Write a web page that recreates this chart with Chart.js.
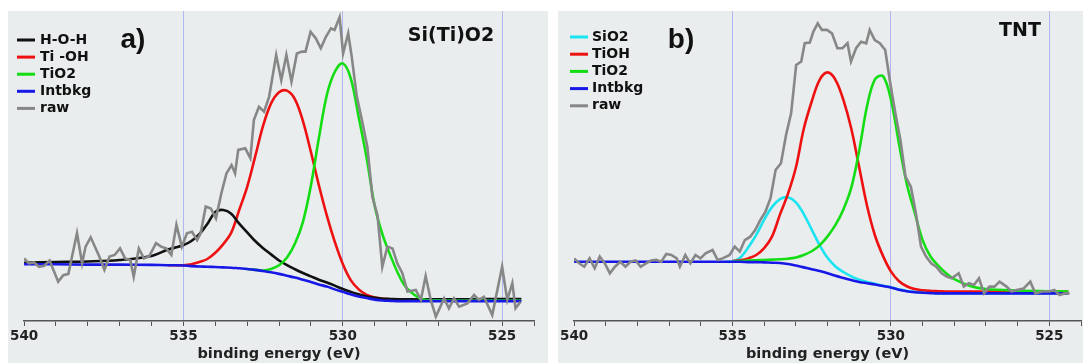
<!DOCTYPE html>
<html>
<head>
<meta charset="utf-8">
<script src="https://cdn.jsdelivr.net/npm/chart.js@4.4.1/dist/chart.umd.min.js"></script>
<style>
  html, body { margin: 0; padding: 0; background: #fff; }
  body { width: 1083px; height: 363px; position: relative; overflow: hidden; }
  .panel { position: absolute; top: 11px; height: 352px; background: #e9edee; }
  #panelA { left: 8px; width: 540px; }
  #panelB { left: 558px; width: 525px; }
</style>
</head>
<body>
<div class="panel" id="panelA"><canvas id="chartA" width="540" height="352"></canvas></div>
<div class="panel" id="panelB"><canvas id="chartB" width="525" height="352"></canvas></div>
<script>
Chart.defaults.font.family = '"DejaVu Sans", sans-serif'
Chart.defaults.color = '#222'

const tickLabels = [540, 535, 530, 525]

// energy grid (eV) the fitted components are read on
const fitEnergy = [540, 539, 538, 537, 536, 535.5, 535.25, 535, 534.75, 534.5, 534.25, 534, 533.75, 533.5, 533.25,
  533, 532.75, 532.5, 532.25, 532, 531.75, 531.5, 531.25, 531, 530.75, 530.5, 530.25, 530, 529.75, 529.5,
  529.25, 529, 528.75, 528.5, 528.25, 528, 527.5, 527, 526, 525, 524.4]

// a) Si(Ti)O2
const bkgA = [18.3, 18.3, 18.2, 18.2, 18.1, 18.0, 18.0, 17.9, 17.7, 17.6, 17.5, 17.4, 17.3, 17.2, 17.0,
  16.8, 16.5, 16.1, 15.7, 15.2, 14.6, 14.0, 13.3, 12.6, 11.8, 11.1, 10.2, 9.4, 8.6, 7.9,
  7.4, 6.9, 6.6, 6.5, 6.4, 6.4, 6.4, 6.4, 6.4, 6.4, 6.4]
const hohA = [18.8, 19.0, 19.2, 19.7, 21.0, 23.0, 23.7, 24.5, 25.8, 28.0, 31.3, 35.2, 35.8, 34.6, 31.4,
  28.6, 25.8, 23.5, 21.5, 19.5, 18.0, 16.7, 15.5, 14.4, 13.3, 12.4, 11.4, 10.3, 9.4, 8.6,
  7.9, 7.5, 7.2, 7.1, 7.0, 7.0, 7.0, 7.0, 7.0, 7.1, 7.1]
const tiohA = [null, null, null, null, null, 18.0, 18.0, 18.0, 18.3, 19.0, 20.0, 22.0, 24.8, 28.5, 35.8,
  43.3, 53.0, 63.0, 70.2, 73.8, 74.3, 71.5, 64.5, 54.5, 43.8, 34.0, 25.5, 18.4, 13.2, 10.2,
  8.4, 7.6, 7.2, 7.0, 6.9, 6.9, 6.9, 6.9, 6.9, 6.9, 6.9]
const tio2A = [null, null, null, null, null, null, null, null, null, null, null, null, null, null, null,
  16.8, 16.5, 16.3, 16.8, 18.0, 20.5, 25.0, 32.0, 43.7, 59.0, 72.9, 80.4, 83.1, 78.3, 65.7,
  52.5, 37.2, 27.8, 21.0, 15.0, 10.7, 7.0, 6.7, 6.6, 6.6, 6.6]
const rawAEnergy = [540.00, 539.85, 539.69, 539.53, 539.37, 539.20, 538.93, 538.77, 538.61, 538.34, 538.18, 538.07,
  537.91, 537.64, 537.48, 537.32, 537.16, 536.99, 536.83, 536.67, 536.56, 536.40, 536.24, 536.08, 535.86, 535.70,
  535.54, 535.38, 535.22, 535.05, 534.89, 534.73, 534.57, 534.46, 534.30, 534.14, 533.98, 533.81, 533.65, 533.49,
  533.38, 533.28, 533.06, 532.90, 532.79, 532.63, 532.47, 532.31, 532.09, 531.93, 531.77, 531.61, 531.44, 531.28,
  531.17, 531.01, 530.85, 530.69, 530.53, 530.37, 530.26, 530.10, 529.99, 529.83, 529.72, 529.56, 529.40, 529.23,
  529.07, 528.91, 528.76, 528.60, 528.44, 528.29, 528.13, 527.97, 527.71, 527.55, 527.40, 527.24, 527.08, 526.82,
  526.67, 526.51, 526.35, 526.09, 525.88, 525.73, 525.57, 525.31, 525.00, 524.84, 524.68, 524.58, 524.42]
const rawACounts = [20.2, 18.6, 18.9, 17.5, 17.8, 19.5, 12.7, 14.8, 15.2, 28.3, 18.6, 24.0,
  27.0, 20.8, 16.5, 20.8, 21.3, 23.4, 20.2, 19.7, 14.3, 23.4, 20.2, 20.8, 25.1, 24.0,
  23.4, 21.3, 31.0, 24.0, 28.3, 28.8, 26.1, 28.3, 36.9, 36.3, 33.1, 41.2, 47.6, 50.3,
  47.6, 55.2, 55.7, 52.5, 64.8, 69.1, 67.5, 72.4, 85.8, 77.7, 85.8, 77.2, 86.3, 86.9,
  86.9, 93.3, 91.2, 88.0, 91.7, 94.4, 93.9, 98.0, 86.3, 92.8, 85.3, 72.4, 64.8, 56.2,
  40.0, 34.0, 17.5, 24.0, 23.4, 18.6, 15.4, 9.5, 10.0, 6.8, 14.5, 6.8, 1.4, 7.3,
  4.1, 7.3, 4.6, 5.7, 8.4, 6.8, 7.8, 1.9, 17.5, 6.8, 12.2, 4.1, 6.2]

// b) TNT
const bkgB = [19.1, 19.1, 19.1, 19.1, 19.1, 19.1, 19.1, 19.1, 19.1, 19.0, 19.0, 18.9, 18.8, 18.7, 18.4,
  17.9, 17.3, 16.7, 16.1, 15.4, 14.6, 13.9, 13.2, 12.6, 12.2, 11.8, 11.3, 10.8, 10.1, 9.6,
  9.3, 9.1, 9.0, 8.9, 8.9, 8.9, 8.9, 8.9, 8.9, 8.9, 8.9]
const sio2B = [null, null, null, null, null, null, 19.1, 19.2, 20.5, 23.8, 27.8, 32.7, 36.8, 39.3, 39.9,
  38.3, 34.5, 29.5, 24.5, 20.4, 17.6, 15.8, 14.4, 13.3, 12.6, 12.0, 11.4, 10.9, 10.2, 9.7,
  9.4, 9.2, 9.1, 9.0, 9.0, 9.0, 9.0, 9.0, 9.0, 9.0, 9.0]
const tiohB = [null, null, null, null, null, null, null, 19.3, 19.6, 20.2, 21.3, 23.5, 27.3, 34.4, 41.0,
  49.5, 62.0, 70.8, 77.8, 80.2, 77.8, 71.3, 62.0, 49.5, 37.0, 27.5, 21.0, 16.0, 12.9, 11.2,
  10.3, 9.9, 9.7, 9.6, 9.5, 9.5, 9.5, 9.5, 9.5, 9.5, 9.5]
const tio2B = [null, null, null, null, null, null, null, 19.3, 19.3, 19.5, 19.6, 19.7, 19.8, 19.9, 20.1,
  20.5, 21.3, 22.5, 24.4, 27.3, 31.0, 36.0, 43.0, 55.0, 69.5, 78.0, 79.0, 71.5, 57.5, 44.3,
  35.0, 26.1, 20.8, 17.8, 15.3, 13.5, 11.3, 10.3, 9.8, 9.6, 9.5]
const rawBEnergy = [540.00, 539.84, 539.68, 539.51, 539.35, 539.19, 539.03, 538.87, 538.71, 538.54, 538.38, 538.22,
  538.06, 537.90, 537.73, 537.57, 537.41, 537.25, 537.09, 536.93, 536.76, 536.66, 536.49, 536.33, 536.17, 536.01,
  535.85, 535.63, 535.47, 535.31, 535.09, 534.93, 534.77, 534.61, 534.44, 534.28, 534.12, 533.96, 533.80, 533.64,
  533.47, 533.31, 533.15, 532.99, 532.83, 532.72, 532.56, 532.45, 532.31, 532.18, 532.02, 531.86, 531.69, 531.53,
  531.37, 531.26, 531.10, 530.94, 530.78, 530.67, 530.51, 530.35, 530.18, 530.02, 529.86, 529.70, 529.54, 529.37,
  529.21, 529.05, 528.89, 528.73, 528.57, 528.40, 528.24, 528.08, 527.86, 527.70, 527.54, 527.38, 527.22, 527.06,
  526.89, 526.73, 526.57, 526.35, 526.19, 526.03, 525.81, 525.60, 525.44, 525.22, 525.00, 524.84, 524.68, 524.52,
  524.36]
const rawBCounts = [20.2, 18.6, 17.5, 20.2, 17.0, 20.8, 18.6, 15.4, 17.5, 19.1, 17.5, 19.1,
  19.5, 17.5, 18.6, 19.5, 19.7, 19.1, 21.6, 21.3, 20.2, 17.5, 21.3, 18.6, 21.3, 20.2,
  21.8, 22.9, 19.7, 20.2, 21.3, 24.0, 22.4, 26.1, 27.2, 29.4, 32.6, 35.3, 39.6, 48.7,
  50.9, 60.0, 67.0, 82.6, 83.7, 89.6, 89.8, 93.3, 96.0, 93.9, 93.9, 92.8, 88.0, 88.0,
  89.6, 83.7, 88.0, 90.1, 89.6, 93.9, 90.6, 89.6, 87.4, 76.7, 67.0, 58.4, 46.6, 43.3,
  34.7, 24.0, 20.8, 18.6, 17.5, 15.4, 14.3, 13.8, 15.4, 11.1, 12.2, 11.6, 13.8, 8.9,
  11.1, 11.1, 12.7, 11.1, 9.5, 10.0, 10.5, 12.7, 8.9, 9.5, 9.5, 10.0, 8.4, 8.9,
  8.9]

const colors = {
  black: '#111111', red: '#ee1111', green: '#14dd14', blue: '#1818e6', cyan: '#1ae4f0', gray: '#878787'
}

const toPoints = (xs, ys) => xs.map((x, i) => ({ x, y: ys[i] }))

const fitLine = (label, ys, color, order) => ({
  label,
  data: toPoints(fitEnergy, ys),
  borderColor: color,
  borderWidth: 2.6,
  pointRadius: 0,
  tension: 0.35,
  fill: false,
  order
})

const rawLine = (xs, ys) => ({
  label: 'raw',
  data: toPoints(xs, ys),
  borderColor: colors.gray,
  borderWidth: 2.6,
  pointRadius: 0,
  tension: 0,
  fill: false,
  order: 0
})

// legend, panel letter and sample name drawn over the plot
const panelText = {
  id: 'panelText',
  afterDraw (chart, args, opts) {
    const ctx = chart.ctx
    ctx.save()
    ctx.font = 'bold 14px "DejaVu Sans"'
    ctx.textBaseline = 'middle'
    ctx.textAlign = 'left'
    chart.data.datasets.forEach((ds, i) => {
      const y = opts.legendY + i * opts.legendStep
      ctx.strokeStyle = ds.borderColor
      ctx.lineWidth = 3
      ctx.beginPath()
      ctx.moveTo(opts.legendX, y)
      ctx.lineTo(opts.legendX + 18, y)
      ctx.stroke()
      ctx.fillStyle = '#111'
      ctx.fillText(ds.label, opts.legendX + opts.textGap, y)
    })
    ctx.textBaseline = 'alphabetic'
    ctx.textAlign = 'center'
    ctx.font = 'bold 28px "Liberation Sans"'
    ctx.fillText(opts.tag, opts.tagX, opts.tagY)
    ctx.font = 'bold 19px "DejaVu Sans"'
    ctx.fillText(opts.name, opts.nameX, opts.nameY)
    ctx.restore()
  }
}

function makeChart (id, datasets, deco, padding) {
  return new Chart(document.getElementById(id), {
    type: 'line',
    data: { datasets },
    options: {
      responsive: false,
      animation: false,
      events: [],
      layout: { padding },
      scales: {
        x: {
          type: 'linear',
          reverse: true,
          min: 524,
          max: 540,
          ticks: {
            stepSize: 1,
            autoSkip: false,
            maxRotation: 0,
            padding: 2,
            color: '#222',
            font: { size: 13.5, weight: 'bold' },
            callback: v => tickLabels.includes(v) ? String(v) : ''
          },
          grid: {
            color: c => (c.tick && c.tick.value !== 540 && tickLabels.includes(c.tick.value)) ? '#b0b6f0' : 'rgba(0,0,0,0)',
            tickColor: '#555',
            tickLength: 5,
            lineWidth: 1
          },
          border: { display: true, color: '#555', width: 1.5 },
          title: {
            display: true,
            text: 'binding energy (eV)',
            color: '#222',
            font: { size: 14.5, weight: 'bold' },
            padding: 0
          },
          afterFit: s => { s.height = 42 }
        },
        y: { display: false, min: 0, max: 100 }
      },
      plugins: {
        legend: { display: false },
        tooltip: { enabled: false },
        panelText: deco
      }
    },
    plugins: [panelText]
  })
}

makeChart('chartA', [
  fitLine('H-O-H', hohA, colors.black, 3),
  fitLine('Ti -OH', tiohA, colors.red, 4),
  fitLine('TiO2', tio2A, colors.green, 2),
  fitLine('Intbkg', bkgA, colors.blue, 1),
  rawLine(rawAEnergy, rawACounts)
], {
  legendX: 9, legendY: 29, legendStep: 17.1, textGap: 23,
  tag: 'a)', tagX: 125, tagY: 37,
  name: 'Si(Ti)O2', nameX: 443, nameY: 30
}, { left: 15, right: 14, top: 0, bottom: 0 })

makeChart('chartB', [
  fitLine('SiO2', sio2B, colors.cyan, 4),
  fitLine('TiOH', tiohB, colors.red, 3),
  fitLine('TiO2', tio2B, colors.green, 2),
  fitLine('Intbkg', bkgB, colors.blue, 1),
  rawLine(rawBEnergy, rawBCounts)
], {
  legendX: 12, legendY: 26, legendStep: 17.2, textGap: 22,
  tag: 'b)', tagX: 123, tagY: 37,
  name: 'TNT', nameX: 462, nameY: 25
}, { left: 14, right: 0, top: 0, bottom: 0 })
</script>
</body>
</html>
